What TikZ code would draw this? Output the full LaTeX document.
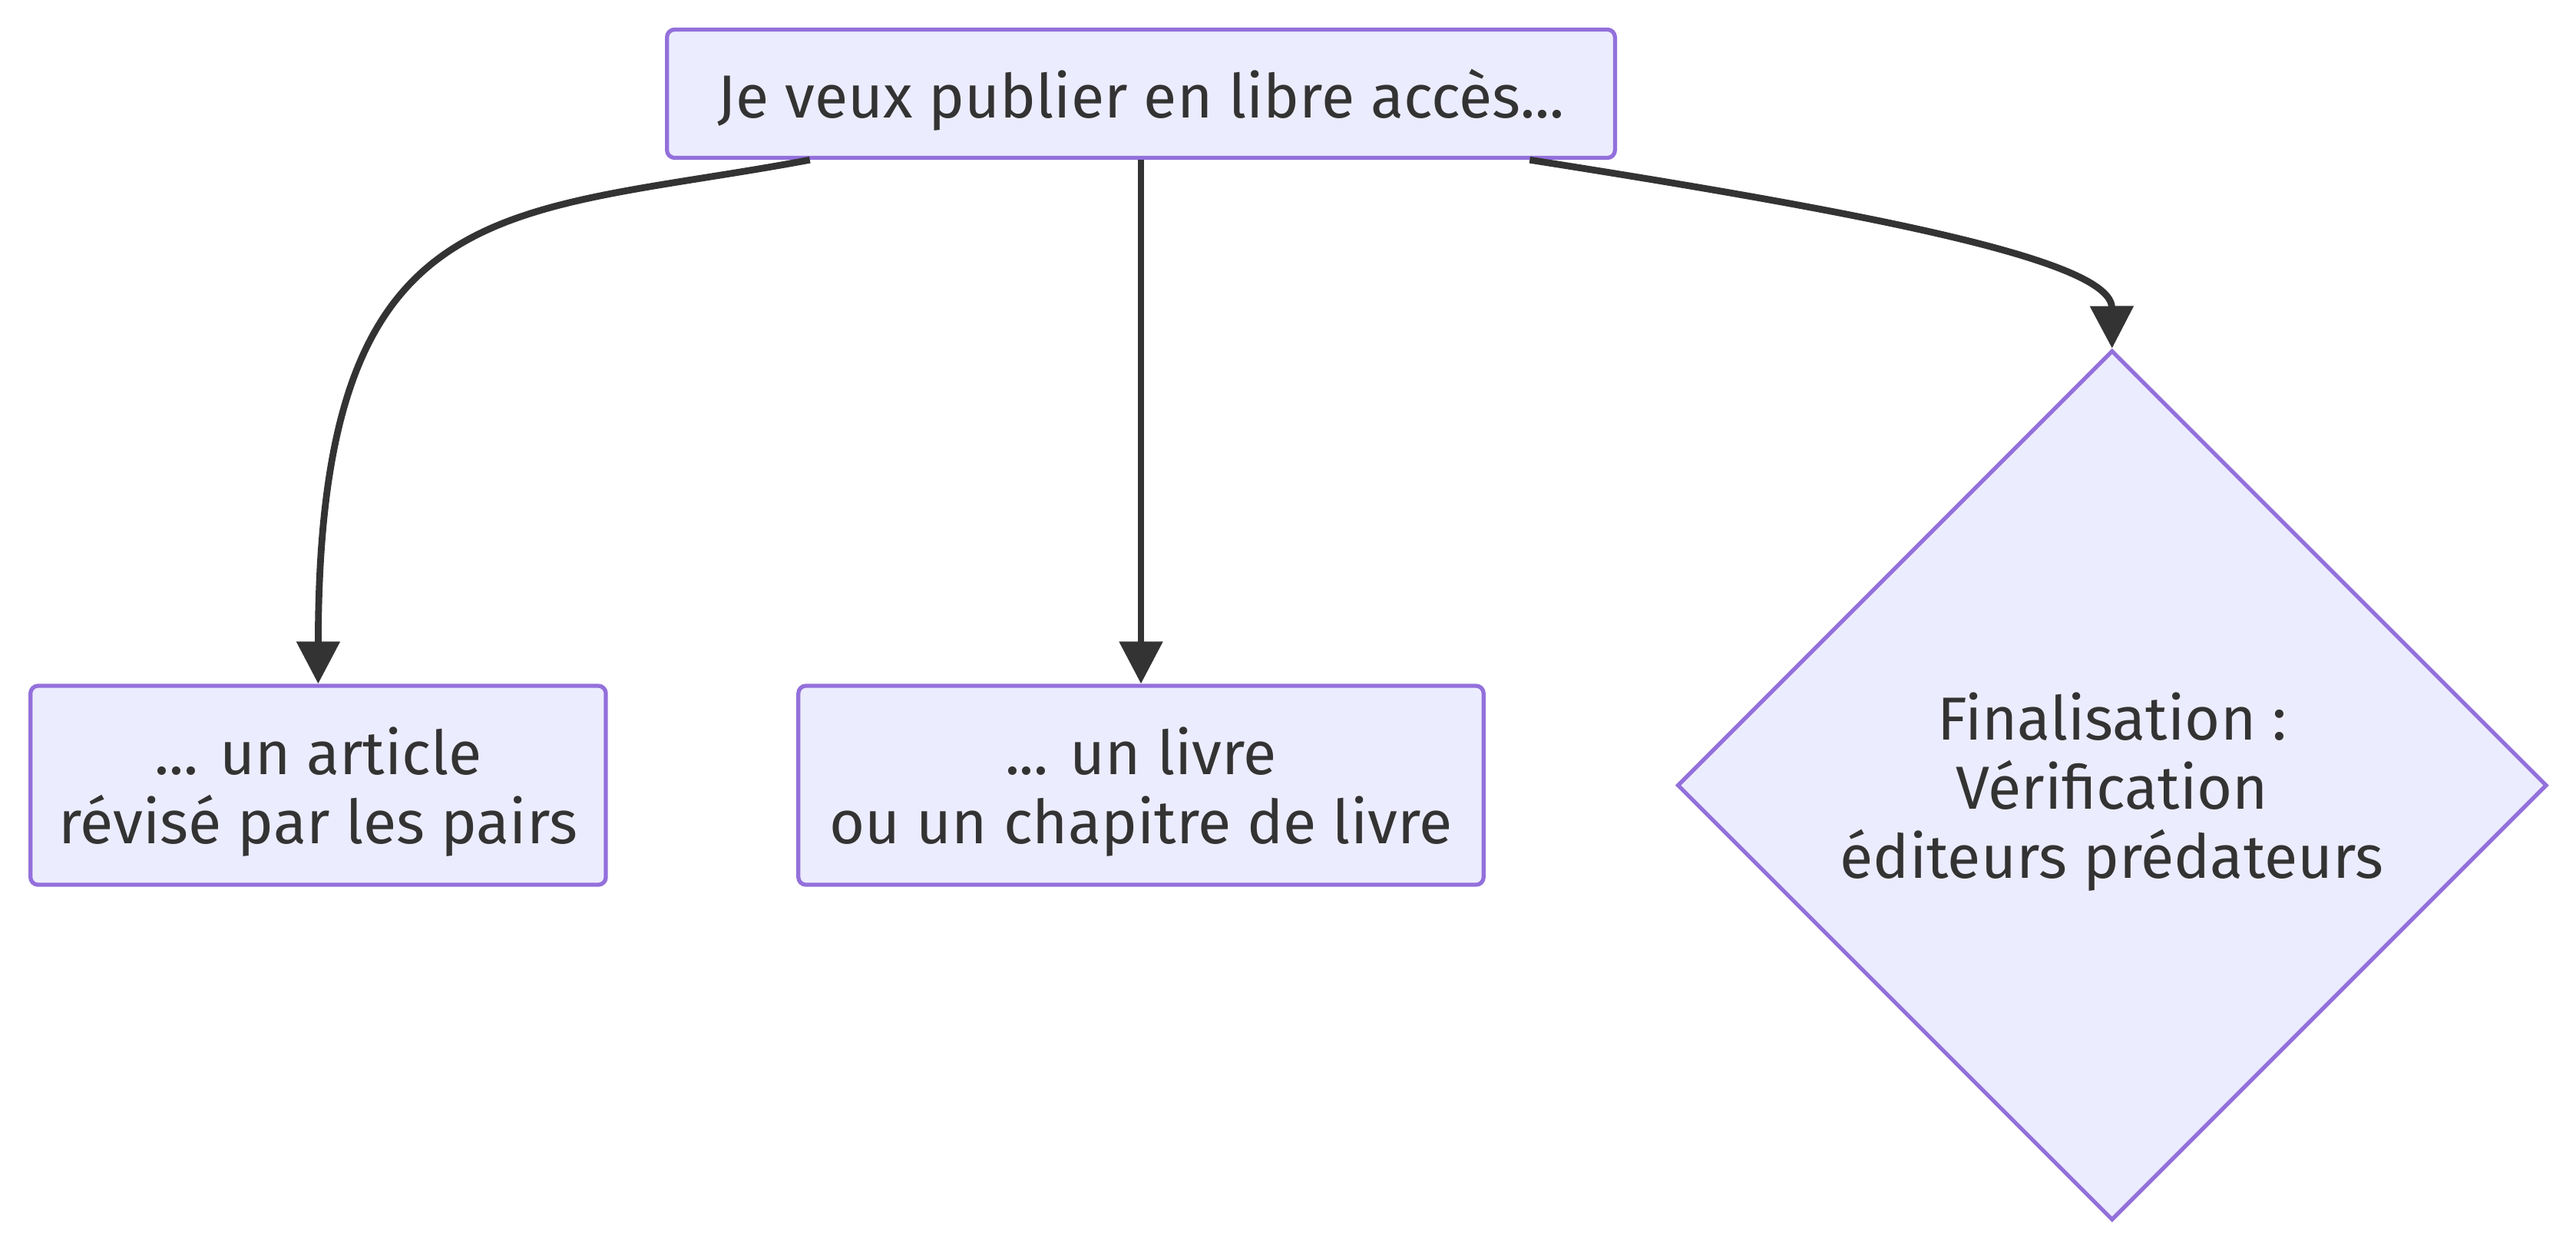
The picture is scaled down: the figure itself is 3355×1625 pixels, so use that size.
\documentclass[tikz,border=0pt]{standalone}
\usepackage{fontspec}
\setmainfont{Fira Sans}
\usepackage{tikz}
\usetikzlibrary{positioning,shapes.geometric,arrows.meta}
\definecolor{boxfill}{HTML}{ECECFF}
\definecolor{boxline}{HTML}{9370DB}
\definecolor{ink}{HTML}{333333}

\begin{document}
\begin{tikzpicture}[x=0.01cm,y=-0.01cm,node distance=9cm]
\tikzstyle{box}=[draw=boxline, fill=boxfill, line width=1.5pt, rounded corners=0.1cm, align=center, text=ink, font=\fontsize{22.5}{25.6}\selectfont, inner sep=0pt, text depth=0pt]
\tikzstyle{choice}=[diamond, draw=boxline, fill=boxfill, line width=1.5pt, align=center, text=ink, font=\fontsize{22.5}{25.6}\selectfont, minimum width=11.32cm, minimum height=11.32cm, inner sep=0pt, text depth=0pt]
\tikzstyle{link}=[draw=ink, line width=2.5pt, -{Triangle[length=0.55cm,width=0.55cm]}]
\useasboundingbox (0,0) rectangle (3355,1625);
	\node[box, minimum width=12.34cm, minimum height=1.67cm] (acces) at (1486,122) {Je veux publier en libre accès{.}{.}{.}};
	\node[box, below of=acces, minimum width=8.92cm, minimum height=2.59cm] (livre) {... un livre\\ou un chapitre de livre};
	\node[box, left of=livre, node distance=10.71cm, minimum width=7.49cm, minimum height=2.59cm] (article) {... un article\\révisé par les pairs};
	\node[choice, right of=livre, node distance=12.64cm] (verif) {Finalisation :\\Vérification\\éditeurs prédateurs};

	\draw[link] ([xshift=-4.31cm]acces.south) .. controls (655,283) and (415,240) .. (article.north);
	\draw[link] (acces.south) -- (livre.north);
	\draw[link] ([xshift=5.06cm]acces.south) .. controls (2450,280) and (2750,340) .. (verif.north);

\end{tikzpicture}
\end{document}
